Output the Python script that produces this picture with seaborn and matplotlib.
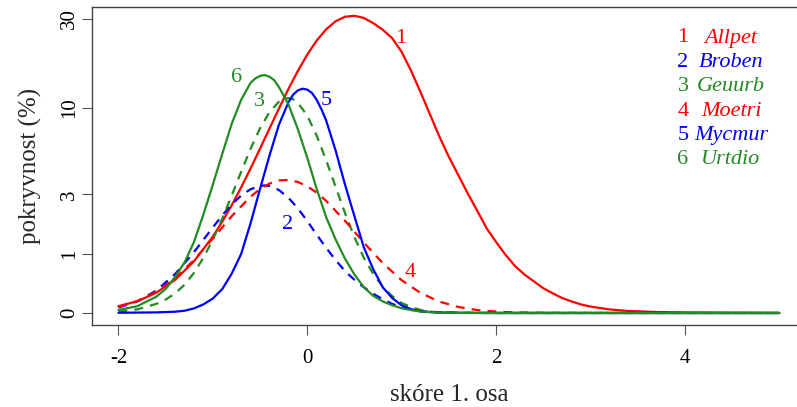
import numpy as np
import pandas as pd
import matplotlib
matplotlib.use("Agg")
import matplotlib.pyplot as plt
import seaborn as sns

# ---------------- data ----------------
species = ["Allpet", "Broben", "Geuurb", "Moetri", "Mycmur", "Urtdio"]
numbers = ["1", "2", "3", "4", "5", "6"]

x_allpet = [-2.0, -1.8, -1.6, -1.4, -1.2, -1.0, -0.9, -0.8, -0.7, -0.6, -0.5, -0.4, -0.3,
            -0.2, -0.1, 0.0, 0.1, 0.2, 0.3, 0.4, 0.5, 0.6, 0.7, 0.8, 0.9, 1.0, 1.1, 1.2,
            1.3, 1.4, 1.5, 1.6, 1.7, 1.8, 1.9, 2.0, 2.1, 2.2, 2.3, 2.4, 2.5, 2.6, 2.7,
            2.8, 2.9, 3.0, 3.2, 3.4, 3.7, 4.0, 4.5, 5.0]
y_allpet = [0.083, 0.147, 0.266, 0.473, 0.828, 1.442, 1.907, 2.522, 3.339, 4.414, 5.82,
            7.628, 9.89, 12.67, 15.89, 19.45, 23.1, 26.49, 29.2, 30.85, 31.2, 30.41,
            28.52, 26.38, 23.78, 20.11, 15.95, 12.2, 9.18, 6.85, 5.2, 4.008, 3.043,
            2.307, 1.691, 1.293, 0.974, 0.733, 0.568, 0.448, 0.336, 0.259, 0.191,
            0.145, 0.105, 0.078, 0.043, 0.024, 0.012, 0.006, 0.003, 0.001]

x_broben = [-2.0, -1.8, -1.6, -1.4, -1.2, -1.0, -0.9, -0.8, -0.7, -0.6, -0.5, -0.45, -0.4,
            -0.3, -0.2, -0.1, 0.0, 0.1, 0.2, 0.3, 0.4, 0.5, 0.6, 0.7, 0.8, 0.9, 1.0,
            1.1, 1.2, 1.4, 1.7, 2.0, 5.0]
y_broben = [0.066, 0.145, 0.298, 0.575, 1.036, 1.718, 2.13, 2.554, 2.943, 3.246, 3.415,
            3.437, 3.41, 3.208, 2.846, 2.397, 1.93, 1.497, 1.143, 0.857, 0.632, 0.473,
            0.351, 0.252, 0.174, 0.112, 0.07, 0.04, 0.02, 0.006, 0.001, 0.0, 0.0]

x_geuurb = [-2.0, -1.8, -1.6, -1.5, -1.4, -1.3, -1.2, -1.1, -1.0, -0.9, -0.8, -0.7, -0.6,
            -0.5, -0.4, -0.3, -0.25, -0.2, -0.15, -0.1, 0.0, 0.1, 0.2, 0.3, 0.4, 0.5,
            0.6, 0.7, 0.8, 0.9, 1.0, 1.1, 1.2, 1.3, 1.4, 1.6, 2.0, 5.0]
y_geuurb = [0.016, 0.044, 0.112, 0.17, 0.256, 0.391, 0.598, 0.906, 1.358, 2.013, 2.943,
            4.207, 5.814, 7.653, 9.454, 10.8, 11.17, 11.31, 11.15, 10.67, 9.024, 6.942,
            4.965, 3.371, 2.212, 1.423, 0.902, 0.578, 0.358, 0.217, 0.124, 0.071,
            0.036, 0.017, 0.008, 0.002, 0.0, 0.0]

x_moetri = [-2.0, -1.8, -1.6, -1.4, -1.2, -1.0, -0.8, -0.6, -0.5, -0.4, -0.3, -0.2, -0.1,
            0.0, 0.1, 0.2, 0.4, 0.6, 0.8, 1.0, 1.2, 1.4, 1.6, 1.8, 2.0, 2.2, 2.5, 3.0, 5.0]
y_moetri = [0.075, 0.149, 0.28, 0.501, 0.855, 1.387, 2.099, 2.896, 3.254, 3.535, 3.702,
            3.731, 3.623, 3.397, 3.08, 2.707, 1.936, 1.275, 0.79, 0.467, 0.264, 0.142,
            0.073, 0.035, 0.016, 0.007, 0.003, 0.001, 0.0]

x_mycmur = [-2.0, -1.6, -1.4, -1.3, -1.2, -1.1, -1.0, -0.9, -0.8, -0.7, -0.6, -0.5, -0.4,
            -0.3, -0.2, -0.15, -0.1, -0.05, 0.0, 0.05, 0.1, 0.15, 0.2, 0.3, 0.4, 0.5,
            0.6, 0.7, 0.8, 0.9, 1.0, 1.1, 1.2, 1.3, 1.4, 1.6, 2.0, 5.0]
y_mycmur = [0.003, 0.007, 0.015, 0.027, 0.055, 0.106, 0.185, 0.323, 0.584, 0.994, 1.858,
            3.263, 5.297, 8.025, 10.7, 11.81, 12.46, 12.74, 12.6, 12.07, 11.06, 9.81,
            8.49, 5.686, 3.482, 2.096, 1.149, 0.665, 0.35, 0.191, 0.094, 0.046, 0.02,
            0.011, 0.006, 0.002, 0.0005, 0.0]

x_urtdio = [-2.0, -1.8, -1.6, -1.5, -1.4, -1.3, -1.2, -1.1, -1.0, -0.9, -0.8, -0.7, -0.6,
            -0.55, -0.5, -0.45, -0.4, -0.35, -0.3, -0.2, -0.1, 0.0, 0.1, 0.2, 0.3, 0.4,
            0.5, 0.6, 0.7, 0.8, 0.9, 1.0, 1.1, 1.2, 1.4, 1.7, 2.0, 5.0]
y_urtdio = [0.036, 0.083, 0.209, 0.323, 0.522, 0.804, 1.293, 2.158, 3.482, 5.42, 8.12,
            11.06, 13.73, 14.49, 14.96, 15.12, 14.8, 14.18, 13.01, 10.47, 7.58, 5.14,
            3.263, 2.065, 1.363, 0.887, 0.568, 0.35, 0.221, 0.145, 0.094, 0.057, 0.034,
            0.018, 0.004, 0.001, 0.0, 0.0]

y_ticks = [0, 1, 3, 10, 30]
y_tick_labels = ["0", "1", "3", "10", "30"]
x_ticks = [-2, 0, 2, 4]
x_tick_labels = ["-2", "0", "2", "4"]

# curve-label anchor points (data coordinates)
label_x = [0.985, -0.212, -0.508, 1.091, 0.201, -0.752]
label_y = [23.8, 1.80, 10.9, 0.596, 11.04, 14.75]

# ---------------- styling ----------------
RED, BLUE, GREEN = "#FF0000", "#0000FF", "#228B22"
colors = dict(zip(species, [RED, BLUE, GREEN, RED, BLUE, GREEN]))
dash_pat = (4, 3.2)
dashes = dict(zip(species, ["", dash_pat, dash_pat, dash_pat, "", ""]))

sns.set_style("ticks")
plt.rcParams["font.family"] = ["Liberation Serif", "DejaVu Serif"]
plt.rcParams["axes.unicode_minus"] = False

xs = [x_allpet, x_broben, x_geuurb, x_moetri, x_mycmur, x_urtdio]
ys = [y_allpet, y_broben, y_geuurb, y_moetri, y_mycmur, y_urtdio]
df = pd.concat(
    [pd.DataFrame({"x": a, "cover": b, "species": s}) for s, a, b in zip(species, xs, ys)],
    ignore_index=True,
)

W, H = 797, 407
fig = plt.figure(figsize=(W / 100, H / 100), dpi=100)
ax_l, ax_r, ax_t, ax_b = 92, 805.7, 7, 325
ax = fig.add_axes([ax_l / W, 1 - ax_b / H, (ax_r - ax_l) / W, (ax_b - ax_t) / H])

sns.lineplot(data=df, x="x", y="cover", hue="species", style="species",
             palette=colors, dashes=dashes, hue_order=species, style_order=species,
             sort=False, estimator=None, legend=False, linewidth=1.6, ax=ax)

ax.set_yscale("function", functions=(np.log1p, np.expm1))
ax.set_xlim(-2.28, 5.28)
ax.set_ylim(np.expm1(-0.1402), np.expm1(3.5748))

ax.set_xticks(x_ticks)
ax.set_xticklabels(x_tick_labels)
ax.set_yticks(y_ticks)
ax.set_yticklabels(y_tick_labels, rotation=90, va="center")
ax.minorticks_off()
ax.tick_params(axis="both", direction="out", length=7.2, width=0.8, color="#555555",
               labelsize=15, labelcolor="black")
ax.tick_params(axis="x", pad=10)
ax.tick_params(axis="y", pad=2)

for sp in ax.spines.values():
    sp.set_visible(True)
    sp.set_color("#444444")
    sp.set_linewidth(1.0)

ax.set_xlabel("skóre 1. osa", fontsize=18)
ax.set_ylabel("pokryvnost (%)", fontsize=18)
ax.xaxis.set_label_coords(0.5, (ax_b - 395) / (ax_b - ax_t))
ax.xaxis.label.set_va("center")
ax.yaxis.set_label_coords((30 - ax_l) / (ax_r - ax_l), 0.5)
ax.yaxis.label.set_va("center")

# numbers on the curves
for n, lx, ly, s in zip(numbers, label_x, label_y, species):
    ax.text(lx, ly, n, color=colors[s], fontsize=16, ha="center", va="center")

# legend block (top right)
row0, row_step = 38, 24.4
for i, (n, s) in enumerate(zip(numbers, species)):
    yy = 1 - (row0 + i * row_step - ax_t) / (ax_b - ax_t)
    ax.text((683 - ax_l) / (ax_r - ax_l), yy, n, color=colors[s], fontsize=16,
            ha="center", va="center", transform=ax.transAxes)
    ax.text((731 - ax_l) / (ax_r - ax_l), yy, s, color=colors[s], fontsize=16,
            style="italic", ha="center", va="center", transform=ax.transAxes)

fig.savefig("out.png", dpi=100)
